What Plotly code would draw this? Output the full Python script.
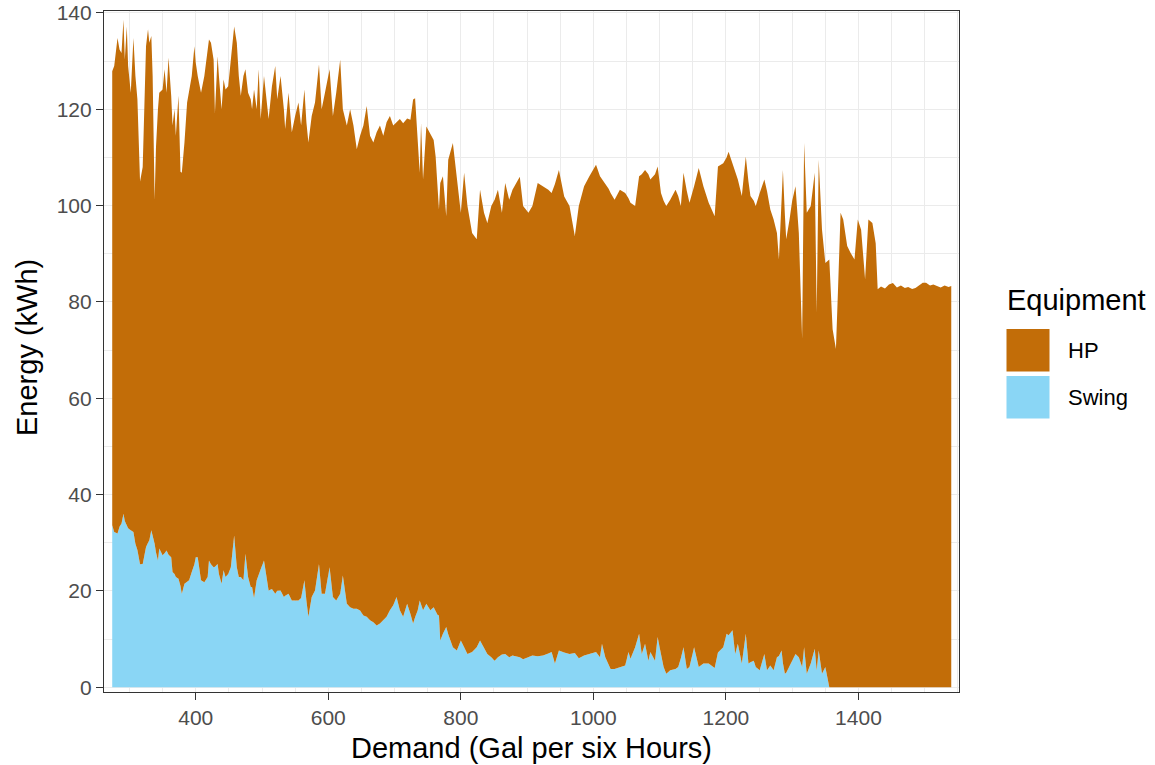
import plotly.graph_objects as go

# Demand (gallons per six hours) and the energy split by equipment (kWh)
demand = [
    274, 277, 282, 285, 288, 291, 293, 296, 298, 302, 306, 309, 312, 316, 320, 322,
    325, 328, 330, 333, 335, 338, 340, 343, 345, 350, 353, 356, 359, 363, 365, 368,
    370, 374, 377, 379, 383, 387, 390, 394, 398, 400, 403, 408, 413, 418, 420, 423,
    427, 429, 433, 435, 439, 442, 445, 449, 453, 458, 462, 465, 468, 472, 475, 479,
    483, 485, 488, 492, 495, 498, 503, 508, 510, 515, 520, 523, 528, 533, 535, 540,
    545, 550, 555, 559, 564, 567, 570, 575, 580, 586, 590, 595, 602, 607, 612, 618,
    622, 628, 633, 638, 643, 648, 653, 658, 663, 668, 673, 678, 683, 688, 693, 698,
    703, 708, 713, 719, 724, 728, 731, 735, 738, 740, 743, 748, 754, 759, 762, 765,
    767, 769, 773, 778, 781, 788, 794, 800, 805, 810, 817, 824, 829, 835, 840, 846,
    851, 856, 862, 867, 873, 878, 889, 894, 902, 908, 916, 924, 932, 937, 942, 948,
    956, 964, 972, 978, 986, 994, 1004, 1010, 1013, 1018, 1023, 1026, 1032, 1040, 1048, 1053,
    1056, 1063, 1069, 1073, 1078, 1083, 1086, 1093, 1097, 1102, 1106, 1110, 1116, 1124, 1128, 1132,
    1136, 1141, 1145, 1152, 1159, 1166, 1174, 1183, 1188, 1196, 1201, 1204, 1210, 1214, 1218, 1224,
    1230, 1234, 1237, 1242, 1245, 1251, 1258, 1262, 1267, 1272, 1277, 1280, 1284, 1286, 1289, 1291,
    1296, 1300, 1305, 1310, 1315, 1318, 1322, 1328, 1334, 1337, 1340, 1345, 1350, 1353, 1356, 1361,
    1366, 1369, 1373, 1377, 1383, 1388, 1394, 1399, 1404, 1410, 1415, 1421, 1426, 1429, 1434, 1440,
    1446, 1452, 1458, 1464, 1470, 1475, 1481, 1486, 1492, 1497, 1502, 1508, 1513, 1518, 1524, 1530,
    1536, 1540,
]

swing_kwh = [
    33.6, 32.2, 31.9, 33.3, 34.0, 36.0, 34.5, 33.6, 33.0, 32.6, 32.2, 29.8, 28.5, 25.5, 25.6, 27.0,
    29.1, 30.0, 30.5, 32.6, 31.5, 29.8, 28.0, 26.3, 28.8, 27.4, 27.8, 28.4, 27.5, 27.0, 23.9, 23.5,
    22.9, 22.5, 21.0, 19.4, 21.5, 22.0, 22.2, 23.9, 25.5, 27.0, 27.0, 22.2, 21.8, 22.9, 26.3, 25.5,
    24.9, 25.0, 25.6, 23.5, 21.5, 24.3, 22.9, 23.5, 24.9, 31.5, 24.9, 22.9, 22.9, 22.2, 27.7, 22.9,
    20.8, 20.8, 18.5, 22.2, 23.6, 24.5, 26.3, 22.2, 20.1, 20.4, 19.4, 20.0, 20.1, 18.7, 19.0, 19.4,
    18.0, 18.0, 18.0, 18.5, 22.2, 18.0, 14.6, 18.7, 20.1, 25.6, 19.4, 19.4, 24.9, 18.7, 18.0, 19.4,
    23.2, 17.3, 16.6, 16.3, 16.3, 15.9, 14.9, 14.6, 13.9, 13.5, 12.8, 13.2, 14.0, 14.6, 16.0, 17.0,
    18.7, 16.0, 14.6, 17.3, 15.2, 13.2, 14.5, 16.0, 18.0, 17.0, 16.0, 17.3, 16.0, 16.6, 15.8, 15.0,
    14.9, 9.7, 11.1, 12.5, 11.0, 8.3, 7.6, 9.7, 8.3, 6.9, 7.3, 8.3, 9.7, 8.3, 6.9, 6.2,
    5.5, 6.2, 6.8, 6.9, 6.2, 6.6, 6.2, 5.8, 6.2, 6.6, 6.4, 6.6, 7.0, 7.3, 4.9, 7.6,
    7.2, 6.9, 7.1, 6.0, 6.6, 6.9, 7.3, 6.2, 9.0, 6.2, 4.9, 3.8, 3.8, 4.2, 4.5, 7.3,
    5.9, 8.3, 11.1, 6.9, 9.0, 5.5, 7.3, 5.5, 10.4, 6.9, 4.2, 2.8, 3.5, 3.8, 4.2, 6.0,
    8.3, 3.8, 4.2, 8.3, 4.2, 4.9, 4.9, 4.0, 7.2, 8.3, 11.1, 10.8, 11.8, 6.9, 9.0, 4.9,
    11.1, 4.9, 5.2, 5.5, 4.2, 3.5, 6.9, 3.5, 4.5, 3.5, 6.2, 6.5, 7.6, 5.0, 2.8, 3.0,
    4.5, 5.5, 6.9, 6.2, 4.2, 8.3, 2.8, 4.9, 8.0, 3.5, 7.6, 2.8, 4.2, 2.1, 0.0, 0.0,
    0.0, 0.0, 0.0, 0.0, 0.0, 0.0, 0.0, 0.0, 0.0, 0.0, 0.0, 0.0, 0.0, 0.0, 0.0, 0.0,
    0.0, 0.0, 0.0, 0.0, 0.0, 0.0, 0.0, 0.0, 0.0, 0.0, 0.0, 0.0, 0.0, 0.0, 0.0, 0.0,
    0.0, 0.0,
]

hp_kwh = [
    94.3, 96.8, 102.9, 99.1, 97.7, 102.6, 95.8, 103.6, 96.0, 90.8, 102.6, 97.1, 93.6, 79.5, 82.4, 93.0,
    104.0, 106.6, 103.3, 102.6, 95.4, 71.4, 84.0, 93.7, 94.6, 96.7, 100.5, 95.0, 103.2, 95.8, 92.7, 96.5,
    91.6, 100.3, 86.0, 87.4, 91.6, 99.4, 101.9, 103.0, 107.6, 102.7, 99.9, 101.2, 105.1, 108.8, 108.2, 108.3,
    105.4, 94.2, 105.4, 103.4, 98.5, 101.9, 101.2, 101.3, 105.4, 105.7, 108.9, 104.0, 99.9, 104.7, 100.6, 100.5,
    101.3, 99.2, 105.6, 97.8, 104.7, 93.5, 100.6, 99.2, 97.9, 104.4, 109.6, 102.1, 106.8, 101.3, 96.9, 104.0,
    97.2, 100.6, 103.4, 98.1, 101.9, 99.3, 98.5, 99.9, 101.3, 103.7, 100.6, 104.0, 103.4, 99.9, 105.4, 110.9,
    96.8, 99.3, 103.4, 100.3, 95.4, 98.6, 101.7, 106.1, 100.6, 99.6, 102.4, 103.4, 100.5, 102.7, 102.6, 99.6,
    98.6, 102.0, 102.5, 100.8, 102.6, 108.8, 107.8, 96.3, 88.8, 100.1, 89.4, 99.1, 99.0, 97.0, 94.4, 89.0,
    84.3, 95.0, 95.0, 85.3, 98.5, 104.7, 97.8, 88.8, 98.5, 93.0, 87.0, 84.7, 93.6, 90.2, 89.5, 93.7,
    95.7, 97.1, 91.7, 97.8, 95.0, 96.7, 99.8, 94.1, 92.3, 93.3, 98.3, 97.4, 96.3, 95.3, 99.6, 99.8,
    94.7, 93.0, 86.6, 93.9, 97.4, 99.2, 101.2, 99.9, 96.5, 98.5, 98.6, 98.8, 97.4, 99.1, 98.1, 94.2,
    94.7, 91.6, 95.0, 99.6, 98.4, 101.0, 98.1, 101.0, 97.7, 95.7, 96.8, 97.1, 97.7, 99.5, 97.8, 93.9,
    98.5, 99.2, 96.4, 95.7, 103.6, 99.1, 95.7, 93.8, 100.9, 100.5, 98.9, 100.4, 97.0, 100.1, 96.4, 97.1,
    99.1, 100.1, 96.8, 95.5, 95.7, 99.1, 98.5, 99.5, 94.7, 93.6, 88.1, 82.3, 92.4, 102.4, 95.2, 90.0,
    92.6, 95.5, 97.1, 88.1, 68.1, 104.7, 95.7, 95.0, 98.8, 74.3, 101.9, 92.2, 83.9, 86.4, 88.8, 74.3,
    70.2, 82.0, 98.5, 97.1, 91.6, 90.2, 88.8, 97.1, 95.0, 84.7, 97.1, 96.4, 92.2, 82.6, 83.2, 82.8,
    83.6, 83.9, 83.0, 83.4, 82.9, 83.1, 82.7, 82.9, 83.5, 84.0, 84.0, 83.4, 83.6, 83.3, 83.0, 83.4,
    83.1, 83.3,
]

assert len(demand) == len(swing_kwh) == len(hp_kwh)

equipment = ["HP", "Swing"]
colors = {"HP": "#C26D08", "Swing": "#8AD6F5"}

x_ticks = [400, 600, 800, 1000, 1200, 1400]
y_ticks = [0, 20, 40, 60, 80, 100, 120, 140]

FONT = "Liberation Sans, Arial, Helvetica, sans-serif"
W, H = 1155, 765
L, R, T, B = 104, 196, 11, 73   # plot margins in pixels


def paper_x(px):
    return (px - L) / (W - L - R)


def paper_y(py):
    return (H - B - py) / (H - T - B)


fig = go.Figure()
# Stacked areas: Swing on the bottom, HP stacked above it
fig.add_trace(go.Scatter(
    x=demand, y=swing_kwh, name="Swing", mode="lines", stackgroup="energy",
    line=dict(width=0, color=colors["Swing"]), fillcolor=colors["Swing"],
    showlegend=False,
))
fig.add_trace(go.Scatter(
    x=demand, y=hp_kwh, name="HP", mode="lines", stackgroup="energy",
    line=dict(width=0, color=colors["HP"]), fillcolor=colors["HP"],
    showlegend=False,
))

axis_common = dict(
    automargin=False,
    showline=True, mirror=True, linecolor="#333333", linewidth=1.2,
    ticks="outside", ticklen=7, tickwidth=1.4, tickcolor="#333333",
    tickfont=dict(family=FONT, size=21, color="#4D4D4D"),
    gridcolor="#EBEBEB", gridwidth=1.3, zeroline=False,
)

fig.update_xaxes(
    range=[261.6, 1551.7], tickvals=x_ticks, ticktext=[str(v) for v in x_ticks],
    minor=dict(dtick=50, tick0=0, showgrid=True, gridcolor="#EBEBEB", gridwidth=1.0, ticks=""),
    **axis_common,
)
fig.update_yaxes(
    range=[-1.0, 140.4], tickvals=y_ticks, ticktext=[str(v) for v in y_ticks],
    minor=dict(dtick=10, tick0=0, showgrid=True, gridcolor="#EBEBEB", gridwidth=1.0, ticks=""),
    **axis_common,
)

annotations = [
    dict(text="Demand (Gal per six Hours)", x=paper_x(531), y=paper_y(748),
         xref="paper", yref="paper", xanchor="center", yanchor="middle",
         showarrow=False, font=dict(family=FONT, size=29, color="black")),
    dict(text="Energy (kWh)", x=paper_x(27), y=paper_y(348), textangle=-90,
         xref="paper", yref="paper", xanchor="center", yanchor="middle",
         showarrow=False, font=dict(family=FONT, size=29, color="black")),
    dict(text="Equipment", x=paper_x(1005), y=paper_y(300),
         xref="paper", yref="paper", xanchor="left", yanchor="middle",
         showarrow=False, font=dict(family=FONT, size=29, color="black")),
]

# Legend keys and labels
shapes = []
key_tops = {"HP": 329, "Swing": 376}
for name in equipment:
    top = key_tops[name]
    shapes.append(dict(
        type="rect", xref="paper", yref="paper",
        x0=paper_x(1006.5), x1=paper_x(1049.5),
        y0=paper_y(top + 42.5), y1=paper_y(top),
        fillcolor=colors[name], line=dict(width=0), layer="above",
    ))
    annotations.append(dict(
        text=name, x=paper_x(1066), y=paper_y(top + 21.5),
        xref="paper", yref="paper", xanchor="left", yanchor="middle",
        showarrow=False, font=dict(family=FONT, size=22, color="black"),
    ))

fig.update_layout(
    width=W, height=H,
    margin=dict(l=L, r=R, t=T, b=B, pad=0),
    paper_bgcolor="white", plot_bgcolor="white",
    showlegend=False,
    annotations=annotations, shapes=shapes,
    font=dict(family=FONT),
)

fig.write_html("out.html")
